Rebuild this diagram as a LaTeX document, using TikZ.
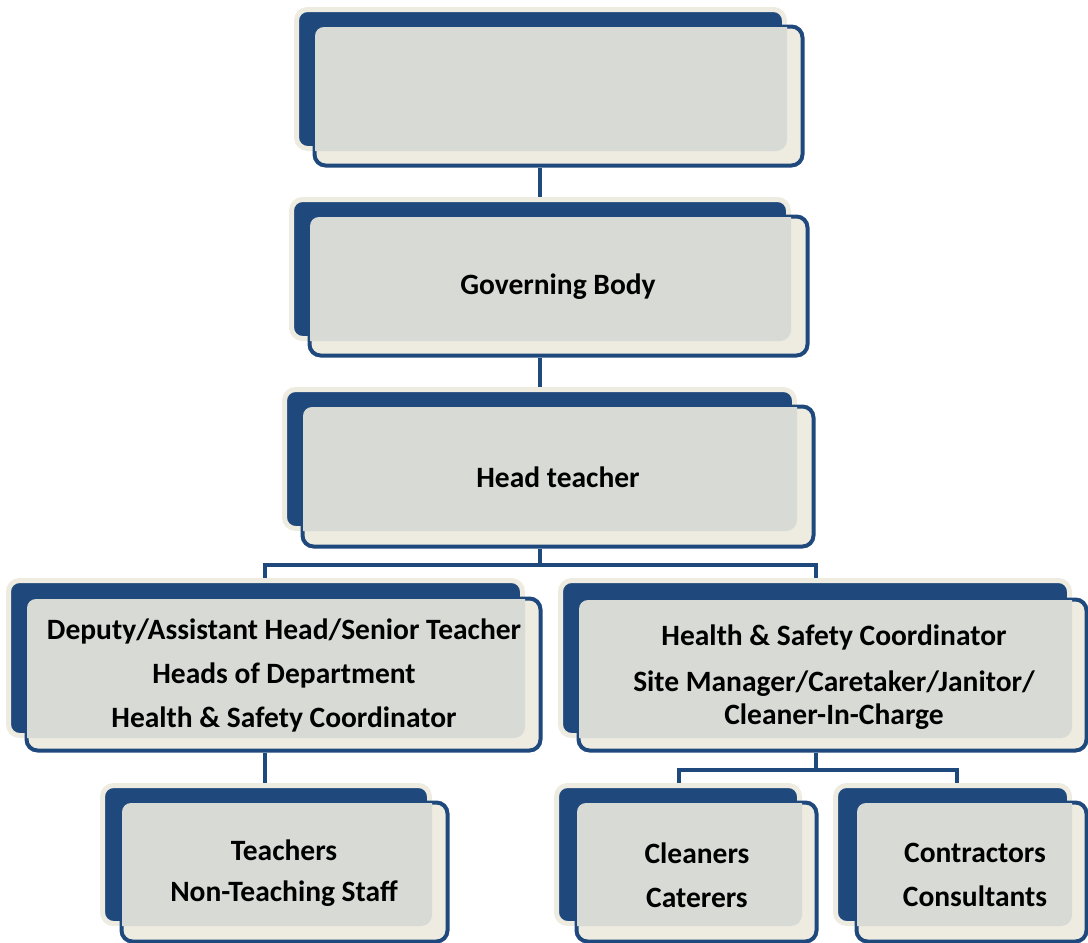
\documentclass[tikz,border=0pt]{standalone}
\usepackage{fontspec}
\setmainfont{Carlito}
\definecolor{boxblue}{HTML}{1F497D}
\definecolor{boxcream}{HTML}{EEECE1}
\definecolor{boxgray}{HTML}{D8DAD5}
\tikzset{
  backbox/.style={rectangle, rounded corners=11pt, fill=boxblue, draw=boxcream, line width=5pt, inner sep=0pt},
  frontbox/.style={rectangle, rounded corners=11pt, fill=boxcream, draw=boxblue, line width=4pt, inner sep=0pt},
  conn/.style={draw=boxblue, line width=4pt},
  lbl/.style={align=center, text=black, font=\fontsize{29.5}{44}\selectfont\bfseries, inner sep=0pt}
}
\newcommand\orgbox[9]{%
  \node[backbox, minimum width={#4-#2+3}, minimum height={#5-#3+3}] (#1A) at ({(#2+#4)/2},{(#3+#5)/2}) {};
  \node[frontbox, minimum width={#8-#6-3}, minimum height={#9-#7-3}] (#1B) at ({(#6+#8)/2},{(#7+#9)/2}) {};
  \begin{scope}
    \clip[rounded corners=11pt] (#1A.south west) rectangle (#1A.north east);
    \fill[boxgray, rounded corners=9pt] ([shift={(2.5,2.5)}]#1B.north west) rectangle ([shift={(-2.5,-2.5)}]#1B.south east);
  \end{scope}
}
\begin{document}
\begin{tikzpicture}[x=1pt,y=-1pt]
\useasboundingbox (0,0) rectangle (1088,943);
\coordinate (c0) at (540,0);
\coordinate (s1) at (540,565);
\coordinate (s1l) at (265,565);
\coordinate (s1r) at (816,565);
\coordinate (s2) at (816,770);
\coordinate (s2l) at (679,770);
\coordinate (s2r) at (957,770);

\orgbox{top}{298}{11}{783}{147}{313}{25}{804}{167}
\orgbox{gb}{293}{201}{787}{337}{308}{215}{809}{357}
\orgbox{ht}{286}{391}{793}{527}{301}{405}{815}{548}
\orgbox{dep}{10}{582}{521}{734}{25}{597}{542}{752}
\orgbox{hs}{562}{582}{1068}{734}{577}{598}{1088}{752}
\orgbox{te}{104}{787}{428}{922}{120}{801}{449}{943}
\orgbox{cl}{558}{787}{798}{922}{575}{801}{818}{943}
\orgbox{co}{837}{787}{1068}{922}{855}{801}{1088}{943}

\draw[conn] (topB.south -| c0) -- (gbA.north -| c0);
\draw[conn] (gbB.south -| c0) -- (htA.north -| c0);
\draw[conn] (htB.south -| s1) -- (s1);
\draw[conn] (depA.north -| s1l) -- (s1l) -- (s1r) -- (hsA.north -| s1r);
\draw[conn] (depB.south -| s1l) -- (teA.north -| s1l);
\draw[conn] (hsB.south -| s2) -- (s2);
\draw[conn] (clA.north -| s2l) -- (s2l) -- (s2r) -- (coA.north -| s2r);

\node[lbl] (tgb) at (558,287) {Governing Body};
\node[lbl] (tht) at (558,477) {Head teacher};
\node[lbl] (tdep) at (284,675) {Deputy/Assistant Head/Senior Teacher\\Heads of Department\\Health \& Safety Coordinator};
\node[lbl] (ths) at (834,677) {Health \& Safety Coordinator\\[2pt]Site Manager/Caretaker/Janitor/\\[-11pt]Cleaner-In-Charge};
\node[lbl] (tte) at (284,873) {Teachers\\[-3pt]Non-Teaching Staff};
\node[lbl] (tcl) at (697,875) {Cleaners\\Caterers};
\node[lbl] (tco) at (975,875) {Contractors\\Consultants};
\end{tikzpicture}
\end{document}
